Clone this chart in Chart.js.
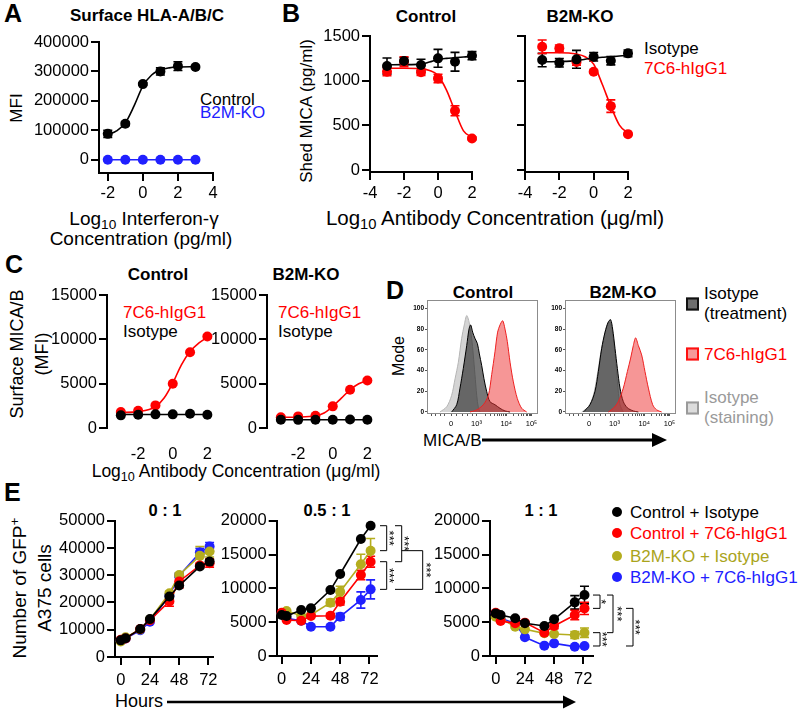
<!DOCTYPE html>
<html><head><meta charset="utf-8">
<script src="https://cdn.jsdelivr.net/npm/chart.js@4.4.1/dist/chart.umd.min.js"></script>
<style>
html,body{margin:0;padding:0;background:#fff;}
#root{position:relative;width:800px;height:710px;overflow:hidden;font-family:"Liberation Sans",Arial,Helvetica,sans-serif;color:#000;}
#root canvas{position:absolute;}
.t{position:absolute;white-space:nowrap;line-height:1;font-size:17px;}
.c{transform:translate(-50%,-50%);}
.l{transform:translateY(-50%);}
.v{transform:translate(-50%,-50%) rotate(-90deg);text-align:center;}
.b{font-weight:bold;}
.P{font-weight:bold;font-size:25px;transform:translateY(-50%);}
sub{font-size:0.72em;vertical-align:-0.3em;line-height:0;}
sup{font-size:0.72em;vertical-align:0.5em;line-height:0;}
.red{color:#ff0000;} .blue{color:#2020ff;} .olive{color:#aaa41c;} .grey{color:#9a9a9a;}
.sq{position:absolute;width:9px;height:9px;border:2px solid;transform:translateY(-50%);}
.dot{position:absolute;width:10px;height:10px;border-radius:50%;transform:translate(-50%,-50%);}
</style></head>
<body><div id="root">
<!-- Panel A -->
<div class="t P" style="left:4px;top:13px">A</div>
<div class="t c b" style="left:147px;top:15px">Surface HLA-A/B/C</div>
<div class="t v" style="left:16px;top:108px">MFI</div>
<div class="t c" style="left:144px;top:218px;font-size:19px">Log<sub>10</sub> Interferon-γ</div>
<div class="t c" style="left:141px;top:238px;font-size:19px">Concentration (pg/ml)</div>
<div class="t l" style="left:200px;top:99px">Control</div>
<div class="t l blue" style="left:200px;top:112px">B2M-KO</div>
<!-- Panel B -->
<div class="t P" style="left:282px;top:13px">B</div>
<div class="t c b" style="left:426px;top:16px">Control</div>
<div class="t c b" style="left:580px;top:16px">B2M-KO</div>
<div class="t v" style="left:306px;top:111px">Shed MICA (pg/ml)</div>
<div class="t c" style="left:495px;top:218px;font-size:20.5px">Log<sub>10</sub> Antibody Concentration (μg/ml)</div>
<div class="t l" style="left:644px;top:48px">Isotype</div>
<div class="t l red" style="left:644px;top:68px">7C6-hIgG1</div>
<!-- Panel C -->
<div class="t P" style="left:5px;top:264px">C</div>
<div class="t c b" style="left:158px;top:274px">Control</div>
<div class="t c b" style="left:306px;top:274px">B2M-KO</div>
<div class="t v" style="left:30px;top:354px;font-size:18px;line-height:25px">Surface MICA/B<br>(MFI)</div>
<div class="t c" style="left:236px;top:472px;font-size:17.5px">Log<sub>10</sub> Antibody Concentration (μg/ml)</div>
<div class="t l red" style="left:123px;top:312px">7C6-hIgG1</div>
<div class="t l" style="left:123px;top:331px">Isotype</div>
<div class="t l red" style="left:278px;top:312px">7C6-hIgG1</div>
<div class="t l" style="left:278px;top:331px">Isotype</div>
<!-- Panel D -->
<div class="t P" style="left:386px;top:290px">D</div>
<div class="t c b" style="left:483px;top:292px">Control</div>
<div class="t c b" style="left:623px;top:292px">B2M-KO</div>
<div class="t v" style="left:399px;top:356px;font-size:16px">Mode</div>
<div class="t l" style="left:423px;top:440px">MICA/B</div>
<div class="sq" style="left:686px;top:304px;background:#6e6e6e;border-color:#111"></div>
<div class="sq" style="left:686px;top:354px;background:#f59a9a;border-color:#ff1010"></div>
<div class="sq" style="left:686px;top:408px;background:#dcdcdc;border-color:#9a9a9a"></div>
<div class="t l" style="left:704px;top:293px">Isotype</div>
<div class="t l" style="left:704px;top:313px">(treatment)</div>
<div class="t l red" style="left:704px;top:354px">7C6-hIgG1</div>
<div class="t l grey" style="left:704px;top:397px">Isotype</div>
<div class="t l grey" style="left:704px;top:417px">(staining)</div>
<!-- Panel E -->
<div class="t P" style="left:4px;top:492px">E</div>
<div class="t c b" style="left:165px;top:510px;font-size:16.5px">0 : 1</div>
<div class="t c b" style="left:327px;top:510px;font-size:16.5px">0.5 : 1</div>
<div class="t c b" style="left:541px;top:510px;font-size:16.5px">1 : 1</div>
<div class="t v" style="left:32px;top:588px;font-size:19px;line-height:25px">Number of GFP<sup>+</sup><br>A375 cells</div>
<div class="t l" style="left:115px;top:701px;font-size:18px">Hours</div>
<div class="dot" style="left:617px;top:512px;background:#000"></div>
<div class="dot" style="left:617px;top:533px;background:#ff0000"></div>
<div class="dot" style="left:617px;top:556px;background:#b4ad1e"></div>
<div class="dot" style="left:617px;top:577px;background:#2020ff"></div>
<div class="t l" style="left:630px;top:512px">Control + Isotype</div>
<div class="t l red" style="left:630px;top:533px">Control + 7C6-hIgG1</div>
<div class="t l olive" style="left:630px;top:556px">B2M-KO + Isotype</div>
<div class="t l blue" style="left:630px;top:577px">B2M-KO + 7C6-hIgG1</div>
<svg width="800" height="710" style="position:absolute;left:0;top:0;pointer-events:none">
  <line x1="482" y1="440" x2="653" y2="440" stroke="#000" stroke-width="3"/>
  <polygon points="652,433 667,440 652,447" fill="#000"/>
  <line x1="167" y1="702" x2="564" y2="702" stroke="#000" stroke-width="2.6"/>
  <polygon points="563,695.5 576,702 563,708.5" fill="#000"/>
</svg>
</div>
<script>
// ---------------- DATA ----------------
// Panel A: surface HLA-A/B/C vs log10 IFN-gamma
const aDose = [-2, -1, 0, 1, 2, 3];
const aControl = [88000, 122000, 257000, 300000, 318000, 315000];
const aControlErr = [12000, 6000, 4000, 12000, 15000, 5000];
const aKO = [0, 0, 0, 0, 0, 0];
const aFitDose = [-2, -1.5, -1, -0.5, 0, 0.5, 1, 1.5, 2, 3];
const aControlFit = [85000, 98000, 125000, 183000, 250000, 288000, 305000, 312000, 315000, 316000];
const aXTicks = [-2, 0, 2, 4];
const aYTicks = [0, 100000, 200000, 300000, 400000];

// Panel B: shed MICA vs log10 antibody
const bDose = [-3, -2, -1, 0, 1, 2];
const bCtrlIso = [1164, 1220, 1175, 1250, 1212, 1280];
const bCtrlIsoErr = [90, 40, 65, 100, 105, 45];
const bCtrl7C6 = [1100, 1212, 1095, 1026, 665, 355];
const bCtrl7C6Err = [45, 55, 35, 47, 56, 15];
const bKOIso = [1231, 1201, 1239, 1268, 1224, 1306];
const bKOIsoErr = [75, 47, 100, 47, 47, 37];
const bKO7C6 = [1380, 1362, 1210, 1100, 716, 403];
const bKO7C6Err = [75, 37, 37, 15, 70, 10];
const bFitDose = [-3, -2, -1, -0.5, 0, 0.5, 1, 1.5, 2];
const bCtrlIsoFit = [1178, 1180, 1186, 1210, 1238, 1250, 1257, 1265, 1276];
const bCtrl7C6Fit = [1140, 1140, 1135, 1115, 1060, 895, 660, 440, 368];
const bKOIsoFit = [1212, 1215, 1225, 1240, 1255, 1262, 1268, 1276, 1285];
const bKO7C6Fit = [1313, 1313, 1298, 1268, 1185, 960, 716, 504, 415];
const bXTicks = [-4, -2, 0, 2];
const bYTicks = [0, 500, 1000, 1500];

// Panel C: surface MICA/B vs log10 antibody
const cDose = [-3, -2, -1, 0, 1, 2];
const cCtrl7C6 = [1800, 1950, 2550, 4990, 8550, 10310];
const cCtrlIso = [1425, 1500, 1540, 1540, 1610, 1500];
const cKO7C6 = [1200, 1310, 1390, 2440, 4310, 5360];
const cKOIso = [940, 920, 940, 940, 960, 930];
const cFitDose = [-3, -2, -1, -0.5, 0, 0.5, 1, 1.5, 2];
const cCtrl7C6Fit = [1750, 1850, 2400, 3375, 5060, 7125, 8625, 9560, 10240];
const cKO7C6Fit = [1200, 1230, 1390, 1690, 2440, 3375, 4310, 4990, 5360];
const cIsoFitDose = [-3, 2];
const cCtrlIsoFit = [1520, 1520];
const cKOIsoFit = [935, 935];
const cXTicks = [-2, 0, 2];
const cYTicks = [0, 5000, 10000, 15000];

// Panel D: flow histograms (x = display channel 0-100, y = % of mode)
const dCtrlStainX = [11.8, 17.9, 22.4, 25.5, 28.5, 31.5, 33.9, 36.1, 38.2, 40.6, 42.1, 43.6, 45.2, 46.7, 48.2];
const dCtrlStainY = [0, 5, 16, 32, 48, 71, 84, 93, 87, 71, 55, 36, 16, 4, 0];
const dCtrlTreatX = [22.4, 27.0, 30.0, 33.0, 36.1, 38.2, 39.7, 41.5, 43.6, 45.8, 47.6, 49.7, 51.8, 54.2, 57.2, 61.8, 66.4, 70.9, 75.5];
const dCtrlTreatY = [0, 7, 23, 42, 64, 80, 84, 77, 71, 66, 56, 45, 32, 20, 10, 7, 3.5, 1, 0];
const dCtrl7C6X = [39.1, 45.2, 51.2, 55.8, 58.8, 61.8, 64.2, 66.4, 68.8, 70.9, 73.0, 75.5, 78.5, 82.1, 86.1, 90.6];
const dCtrl7C6Y = [0, 2, 7, 16, 36, 58, 77, 84, 88, 80, 68, 48, 29, 13, 3.5, 0];
const dKOStainX = [15.2, 21.2, 25.8, 29.4, 32.7, 35.8, 38.8, 40.9, 43.0, 45.5, 47.6, 50.0, 53.0];
const dKOStainY = [0, 5, 16, 36, 58, 74, 85, 87, 77, 55, 29, 7, 0];
const dKOTreatX = [16.7, 22.7, 27.3, 30.3, 33.3, 36.4, 39.4, 41.5, 43.3, 45.5, 47.6, 50.0, 53.0, 56.7, 62.1, 66.7];
const dKOTreatY = [0, 7, 20, 39, 61, 77, 87, 89, 80, 61, 42, 23, 10, 4, 1, 0];
const dKO7C6X = [39.4, 43.9, 48.5, 53.0, 56.7, 59.7, 62.1, 64.2, 66.7, 69.7, 72.7, 75.8, 79.7, 83.3, 87.9];
const dKO7C6Y = [0, 3.5, 10, 23, 39, 52, 64, 71.5, 64, 55, 39, 23, 7, 2, 0];
const dXTicks = [4, 8, 12, 16, 22, 27, 32, 37, 41, 45, 53, 58, 61, 64, 66, 68, 69.5, 71, 72, 79, 83, 86, 88, 90, 91.5, 93, 94, 95];
const dXTickLabels = ['', '', '', '', '0', '', '', '', '', '10³', '', '', '', '', '', '', '', '', '10⁴', '', '', '', '', '', '', '', '', '10⁵'];
const dYTicks = [0, 20, 40, 60, 80, 100];

// Panel E: number of GFP+ A375 cells over time
const eHours = [0, 4, 16, 24, 40, 48, 65, 73];
const e01CtrlIso = [6100, 6900, 10250, 13900, 22200, 26200, 33200, 35000];
const e01CtrlIsoErr = [0, 0, 0, 0, 0, 0, 0, 800];
const e01Ctrl7C6 = [6300, 6800, 10300, 13500, 20400, 27700, 33600, 34400];
const e01Ctrl7C6Err = [0, 0, 0, 0, 1800, 2400, 800, 1500];
const e01KOIso = [5700, 7200, 10100, 13800, 23400, 30100, 37100, 38700];
const e01KOIsoErr = [0, 0, 0, 0, 700, 800, 3400, 2000];
const e01KO7C6 = [6000, 6800, 9800, 12900, 22600, 29800, 38300, 40500];
const e01KO7C6Err = [0, 0, 0, 0, 600, 800, 1500, 1500];

const e05CtrlIso = [6060, 5900, 6800, 7040, 9750, 12120, 17290, 19260];
const e05CtrlIsoErr = [0, 0, 0, 0, 0, 0, 0, 0];
const e05Ctrl7C6 = [6400, 5320, 5220, 5900, 5960, 8030, 11970, 13940];
const e05Ctrl7C6Err = [0, 0, 0, 0, 300, 500, 700, 800];
const e05KOIso = [6200, 6650, 5960, 6060, 7880, 9500, 13550, 15570];
const e05KOIsoErr = [0, 0, 0, 0, 500, 800, 1500, 1800];
const e05KO7C6 = [6300, 5570, 5220, 4330, 4330, 5810, 8280, 9850];
const e05KO7C6Err = [0, 0, 0, 0, 0, 500, 1200, 1400];

const e11CtrlIso = [6300, 6060, 5570, 4830, 4430, 5420, 7930, 9010];
const e11CtrlIsoErr = [0, 0, 0, 0, 0, 0, 1000, 1300];
const e11Ctrl7C6 = [6400, 5170, 4830, 4930, 3450, 4430, 6060, 7040];
const e11Ctrl7C6Err = [0, 0, 0, 0, 0, 400, 700, 900];
const e11KOIso = [5810, 5570, 4330, 3940, 3350, 3250, 3100, 3450];
const e11KOIsoErr = [0, 0, 0, 0, 0, 0, 500, 700];
const e11KO7C6 = [6300, 5570, 4830, 2760, 1530, 1870, 1380, 1480];
const e11KO7C6Err = [0, 0, 0, 0, 0, 0, 0, 0];

const eXTicks = [0, 24, 48, 72];
const e01YTicks = [0, 10000, 20000, 30000, 40000, 50000];
const e05YTicks = [0, 5000, 10000, 15000, 20000];
// significance brackets: [series index a, series index b, label]  (0 ctrlIso,1 ctrl7C6,2 koIso,3 ko7C6)
const e05Sig = [[0, 2, '***'], [1, 3, '***'], [0, 1, '***'], [2, 3, '***']];
const e11Sig = [[0, 1, '*'], [2, 3, '***'], [0, 2, '***'], [1, 3, '***']];

// ---------------- RENDERING ----------------
const FONT = '"Liberation Sans", Arial, Helvetica, sans-serif';
Chart.defaults.font.family = FONT;
Chart.defaults.color = '#000';
const root = document.getElementById('root');
const BLACK = '#000000', RED = '#ff0000', BLUE = '#2020ff', OLIVE = '#b4ad1e';

function pts(xs, ys) { return xs.map((x, i) => ({ x: x, y: ys[i] })); }

const errBars = {
  id: 'errBars',
  beforeDatasetsDraw(chart) {
    const ctx = chart.ctx, xs = chart.scales.x, ys = chart.scales.y;
    chart.data.datasets.forEach(ds => {
      if (!ds.errors) return;
      ctx.save();
      ctx.strokeStyle = ds.borderColor; ctx.lineWidth = 1.6;
      ds.data.forEach((p, j) => {
        const e = ds.errors[j]; if (!e) return;
        const x = xs.getPixelForValue(p.x);
        const y1 = ys.getPixelForValue(p.y + e), y2 = ys.getPixelForValue(p.y - e);
        const cw = 4.5;
        ctx.beginPath();
        ctx.moveTo(x, y1); ctx.lineTo(x, y2);
        ctx.moveTo(x - cw, y1); ctx.lineTo(x + cw, y1);
        ctx.moveTo(x - cw, y2); ctx.lineTo(x + cw, y2);
        ctx.stroke();
      });
      ctx.restore();
    });
  }
};

const frame = {
  id: 'frame',
  afterDraw(chart, args, opts) {
    if (!opts || !opts.on) return;
    const a = chart.chartArea, ctx = chart.ctx;
    ctx.save(); ctx.strokeStyle = '#8c8c8c'; ctx.lineWidth = 1;
    ctx.strokeRect(Math.round(a.left) + 0.5, Math.round(a.top) + 0.5, Math.round(a.right - a.left), Math.round(a.bottom - a.top));
    ctx.restore();
  }
};

const sig = {
  id: 'sig',
  afterDatasetsDraw(chart, args, opts) {
    if (!opts || !opts.items) return;
    const ctx = chart.ctx, ys = chart.scales.y, R = chart.chartArea.right;
    ctx.save(); ctx.strokeStyle = '#000'; ctx.fillStyle = '#000'; ctx.lineWidth = 1;
    ctx.font = '13px ' + FONT;
    opts.items.forEach(b => {
      const da = chart.data.datasets[b.a].data, db = chart.data.datasets[b.b].data;
      const ya = ys.getPixelForValue(da[da.length - 1].y), yb = ys.getPixelForValue(db[db.length - 1].y);
      const x2 = R + b.x2;
      ctx.beginPath();
      ctx.moveTo(R + b.x1a, ya); ctx.lineTo(x2, ya); ctx.lineTo(x2, yb); ctx.lineTo(R + b.x1b, yb);
      ctx.stroke();
      ctx.save();
      ctx.translate(R + b.lx, (ya + yb) / 2); ctx.rotate(Math.PI / 2);
      ctx.textAlign = 'center'; ctx.textBaseline = 'middle';
      ctx.fillText(b.label, 0, 3);
      ctx.restore();
    });
    ctx.restore();
  }
};

function place(L, T, R, B, o) {
  const yW0 = o.yW ?? 75, padT0 = o.padT ?? 14, padR0 = o.padR ?? 16, xH0 = o.xH ?? 40;
  const left = Math.floor(L - yW0), top = Math.floor(T - padT0);
  const right = Math.ceil(R + padR0), bottom = Math.ceil(B + xH0);
  const cv = document.createElement('canvas');
  cv.width = right - left; cv.height = bottom - top;
  cv.style.left = left + 'px'; cv.style.top = top + 'px';
  cv.style.width = (right - left) + 'px'; cv.style.height = (bottom - top) + 'px';
  root.appendChild(cv);
  return { cv, yW: L - left, padT: T - top, padR: right - R, xH: bottom - B };
}

function axis(min, max, ticks, o) {
  o = o || {};
  const marks = o.marks !== false;
  return {
    type: 'linear', min: min, max: max,
    afterBuildTicks: s => { s.ticks = ticks.map(v => ({ value: v })); },
    ticks: {
      display: o.labels !== false, color: '#000', autoSkip: false, maxRotation: 0, minRotation: 0,
      font: { family: FONT, size: o.fs || 16.5, weight: o.fw || 'normal' },
      padding: o.pad ?? 2,
      callback: o.cb || (v => String(v))
    },
    grid: { display: marks, drawOnChartArea: false, drawTicks: marks, tickLength: marks ? (o.tl ?? 8) : 0, color: o.tc || '#000', lineWidth: o.tw ?? 2 },
    border: { display: o.border !== false, color: '#000', width: o.bw ?? 2 }
  };
}

function make(box, datasets, xAxis, yAxis, extra) {
  const p = place(box[0], box[1], box[2], box[3], box[4] || {});
  xAxis.afterFit = s => { s.height = p.xH; };
  yAxis.afterFit = s => { s.width = p.yW; };
  const plugs = extra || {};
  return new Chart(p.cv, {
    type: 'line',
    data: { datasets: datasets },
    options: {
      responsive: false, maintainAspectRatio: false, animation: false, devicePixelRatio: 1, events: [],
      layout: { padding: { left: 0, top: p.padT, right: p.padR, bottom: 0 } },
      scales: { x: xAxis, y: yAxis },
      plugins: Object.assign({ legend: { display: false }, tooltip: { enabled: false } }, plugs)
    },
    plugins: [errBars, frame, sig]
  });
}

function fitLine(xs, ys, color) {
  return { data: pts(xs, ys), borderColor: color, borderWidth: 1.6, pointRadius: 0, cubicInterpolationMode: 'monotone', clip: false, fill: false };
}
function dots(xs, ys, color, errs, lineW) {
  return { data: pts(xs, ys), borderColor: color, backgroundColor: color, pointBackgroundColor: color, pointBorderColor: color,
    pointRadius: 5, pointBorderWidth: 0, showLine: !!lineW, borderWidth: lineW || 0, tension: 0, errors: errs, clip: false, fill: false };
}
function hist(xs, ys, fillC, lineC, lw) {
  return { data: pts(xs, ys), borderColor: lineC, backgroundColor: fillC, borderWidth: lw, pointRadius: 0, tension: 0.3, fill: 'origin', clip: false };
}

// ---- Panel A ----
make([99, 42, 213, 173], [
  dots(aDose, aControl, BLACK, aControlErr),
  fitLine(aFitDose, aControlFit, BLACK),
  dots(aDose, aKO, BLUE, null, 1.6)
], axis(-2.5, 4, aXTicks, { pad: 3 }), axis(-45000, 400000, aYTicks, {}));

// ---- Panel B ----
make([370, 36, 472, 172], [
  dots(bDose, bCtrlIso, BLACK, bCtrlIsoErr),
  dots(bDose, bCtrl7C6, RED, bCtrl7C6Err),
  fitLine(bFitDose, bCtrlIsoFit, BLACK),
  fitLine(bFitDose, bCtrl7C6Fit, RED)
], axis(-4, 2, bXTicks, { pad: 4 }), axis(-20, 1500, bYTicks, {}));

make([525, 36, 628, 172], [
  dots(bDose, bKOIso, BLACK, bKOIsoErr),
  dots(bDose, bKO7C6, RED, bKO7C6Err),
  fitLine(bFitDose, bKOIsoFit, BLACK),
  fitLine(bFitDose, bKO7C6Fit, RED)
], axis(-4, 2, bXTicks, { pad: 4 }), axis(-20, 1500, bYTicks, { cb: () => '' }));

// ---- Panel C ----
make([107, 295, 216, 428], [
  dots(cDose, cCtrlIso, BLACK),
  dots(cDose, cCtrl7C6, RED),
  fitLine(cIsoFitDose, cCtrlIsoFit, BLACK),
  fitLine(cFitDose, cCtrl7C6Fit, RED)
], axis(-3.8, 2.5, cXTicks, { marks: false, border: false, pad: 17 }), axis(0, 15000, cYTicks, {}));

make([267, 295, 376, 428], [
  dots(cDose, cKOIso, BLACK),
  dots(cDose, cKO7C6, RED),
  fitLine(cIsoFitDose, cKOIsoFit, BLACK),
  fitLine(cFitDose, cKO7C6Fit, RED)
], axis(-3.8, 2.5, cXTicks, { marks: false, border: false, pad: 17 }), axis(0, 15000, cYTicks, {}));

// ---- Panel D ----
const dX = () => axis(0, 100, dXTicks, { fs: 7.5, tl: 3, tw: 1, pad: 3, border: false, tc: '#555', cb: (v, i) => dXTickLabels[i] });
const dY = () => axis(-1, 108, dYTicks, { fs: 6.5, fw: 'bold', tl: 2, tw: 1, pad: 1, border: false, tc: '#555' });
make([427, 300, 537, 413, { yW: 24, padR: 8, xH: 20, padT: 6 }], [
  hist(dCtrl7C6X, dCtrl7C6Y, 'rgba(238,45,45,0.5)', '#ee2020', 1),
  hist(dCtrlTreatX, dCtrlTreatY, 'rgba(35,35,35,0.62)', '#000', 1),
  hist(dCtrlStainX, dCtrlStainY, 'rgba(205,205,205,0.85)', '#b4b4b4', 1)
], dX(), dY(), { frame: { on: true } });

make([565, 300, 675, 413, { yW: 24, padR: 8, xH: 20, padT: 6 }], [
  hist(dKO7C6X, dKO7C6Y, 'rgba(238,45,45,0.5)', '#ee2020', 1),
  hist(dKOTreatX, dKOTreatY, 'rgba(35,35,35,0.62)', '#000', 1),
  hist(dKOStainX, dKOStainY, 'rgba(205,205,205,0.85)', '#b4b4b4', 1)
], dX(), dY(), { frame: { on: true } });

// ---- Panel E ----
function eSets(a, ae, b, be, c, ce, d, de) {
  return [
    dots(eHours, a, BLACK, ae, 1.6),
    dots(eHours, b, RED, be, 1.6),
    dots(eHours, c, OLIVE, ce, 1.6),
    dots(eHours, d, BLUE, de, 1.6)
  ];
}
make([115, 520.7, 213, 657], eSets(e01CtrlIso, e01CtrlIsoErr, e01Ctrl7C6, e01Ctrl7C6Err, e01KOIso, e01KOIsoErr, e01KO7C6, e01KO7C6Err),
  axis(-4.7, 75.8, eXTicks, { pad: 6 }), axis(0, 50000, e01YTicks, {}));

make([276.7, 520.7, 376.7, 656, { padR: 70 }], eSets(e05CtrlIso, e05CtrlIsoErr, e05Ctrl7C6, e05Ctrl7C6Err, e05KOIso, e05KOIsoErr, e05KO7C6, e05KO7C6Err),
  axis(-4.1, 78, eXTicks, { pad: 6 }), axis(0, 20000, e05YTicks, {}),
  { sig: { items: [
    { a: e05Sig[0][0], b: e05Sig[0][1], label: e05Sig[0][2], x1a: 3.3, x1b: 3.3, x2: 10, lx: 15 },
    { a: e05Sig[1][0], b: e05Sig[1][1], label: e05Sig[1][2], x1a: 3.3, x1b: 3.3, x2: 10, lx: 15 },
    { a: e05Sig[2][0], b: e05Sig[2][1], label: e05Sig[2][2], x1a: 18.3, x1b: 18.3, x2: 25, lx: 30 },
    { a: e05Sig[3][0], b: e05Sig[3][1], label: e05Sig[3][2], x1a: 25, x1b: 18.3, x2: 46, lx: 52 }
  ] } });

make([490, 520.7, 593, 656, { padR: 60 }], eSets(e11CtrlIso, e11CtrlIsoErr, e11Ctrl7C6, e11Ctrl7C6Err, e11KOIso, e11KOIsoErr, e11KO7C6, e11KO7C6Err),
  axis(-4.7, 80, eXTicks, { pad: 6 }), axis(0, 20000, e05YTicks, {}),
  { sig: { items: [
    { a: e11Sig[0][0], b: e11Sig[0][1], label: e11Sig[0][2], x1a: 0, x1b: 0, x2: 7, lx: 11 },
    { a: e11Sig[1][0], b: e11Sig[1][1], label: e11Sig[1][2], x1a: 0, x1b: 0, x2: 7, lx: 12 },
    { a: e11Sig[2][0], b: e11Sig[2][1], label: e11Sig[2][2], x1a: 14, x1b: 14, x2: 20, lx: 27 },
    { a: e11Sig[3][0], b: e11Sig[3][1], label: e11Sig[3][2], x1a: 33, x1b: 33, x2: 40, lx: 45 }
  ] } });
</script>
</body></html>
